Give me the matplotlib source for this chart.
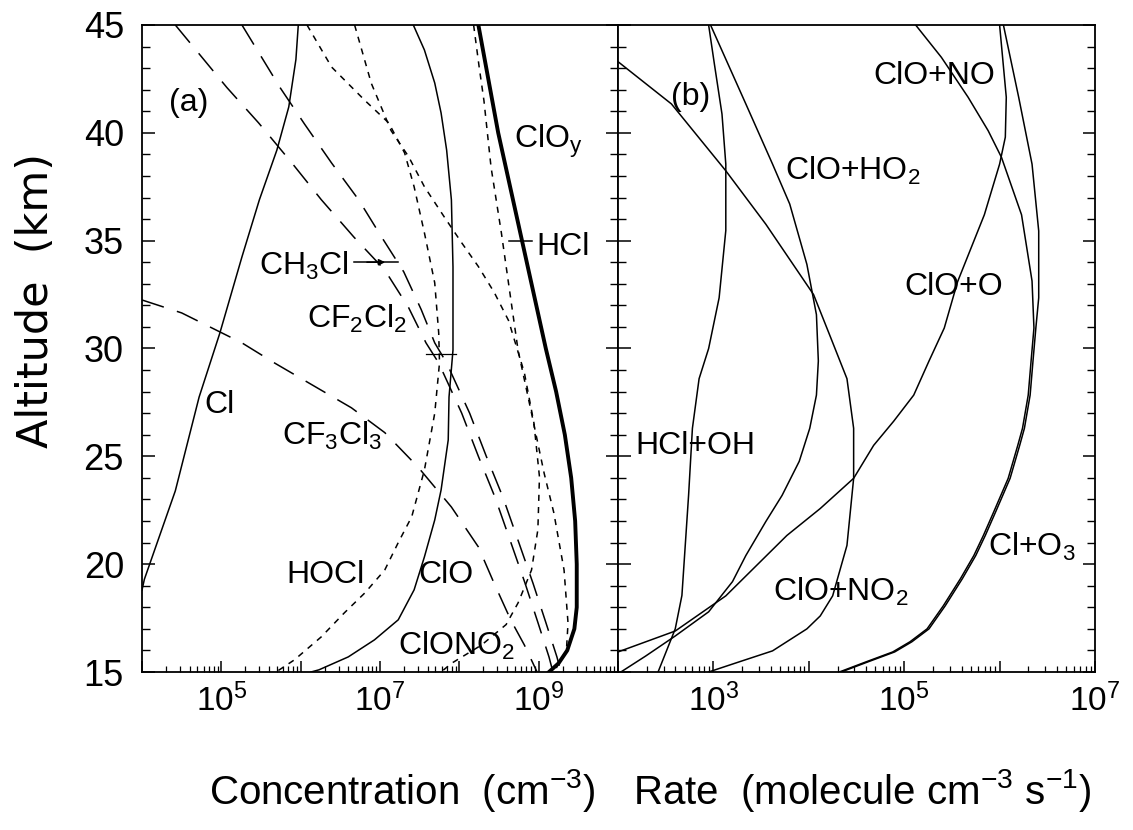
import numpy as np
import matplotlib
matplotlib.use('Agg')
import matplotlib.pyplot as plt
from matplotlib.ticker import LogLocator, MultipleLocator, NullFormatter, FuncFormatter

plt.rcParams['font.family'] = ['Liberation Sans', 'DejaVu Sans']
plt.rcParams['mathtext.fontset'] = 'custom'
plt.rcParams['mathtext.rm'] = 'Liberation Sans'
plt.rcParams['mathtext.default'] = 'regular'

# ---- (a) concentrations: altitude (km) and log10 of number density (cm-3)
cl_alt = [45.0, 43.4, 41.2, 39.2, 36.9, 34.25, 30.7, 27.75, 23.4, 19.3, 18.8]
cl_log = [5.97, 5.94, 5.85, 5.70, 5.48, 5.26, 4.98, 4.72, 4.42, 4.03, 4.00]

clo_alt = [45.0, 43.84, 42.31, 40.92, 39.2, 36.89, 33.78, 29.93, 27.75, 25.76, 23.44,
           22.05, 20.34, 18.81, 17.42, 16.49, 15.7, 15.1, 15.0]
clo_log = [7.42, 7.56, 7.69, 7.77, 7.84, 7.90, 7.92, 7.92, 7.87, 7.86, 7.77,
           7.69, 7.56, 7.43, 7.23, 6.93, 6.60, 6.23, 6.13]

cloy_alt = [45.0, 40.0, 35.0, 32.0, 30.0, 28.0, 26.0, 24.0, 22.0, 20.0, 18.0, 17.0, 16.0, 15.4, 15.0]
cloy_log = [8.24, 8.49, 8.79, 8.97, 9.09, 9.22, 9.33, 9.41, 9.46, 9.48, 9.48, 9.45, 9.36, 9.25, 9.13]

hcl_alt = [45.0, 43.05, 41.5, 38.4, 35.36, 32.25, 29.93, 27.0, 24.2, 22.4, 19.73, 17.27, 16.0, 15.4, 15.0]
hcl_log = [8.18, 8.25, 8.31, 8.40, 8.53, 8.65, 8.74, 8.91, 9.07, 9.19, 9.32, 9.37, 9.35, 9.25, 9.20]

clono2_alt = [45.0, 42.3, 40.1, 38.9, 37.5, 36.1, 34.9, 33.8, 32.6, 31.3, 28.87, 26.55,
              24.05, 21.6, 19.73, 18.2, 17.2, 16.25, 15.4, 15.0]
clono2_log = [6.68, 6.89, 7.14, 7.36, 7.56, 7.81, 8.03, 8.24, 8.44, 8.62, 8.82, 8.94,
              9.01, 8.99, 8.91, 8.74, 8.59, 8.28, 7.90, 7.77]

hocl_alt = [45.0, 43.05, 41.5, 40.46, 39.07, 37.5, 35.36, 33.04, 30.72, 29.33, 27.0,
            24.37, 22.2, 21.0, 19.73, 18.67, 17.74, 16.63, 15.56, 15.0]
hocl_log = [6.08, 6.39, 6.81, 7.11, 7.31, 7.43, 7.56, 7.69, 7.74, 7.75, 7.69,
            7.56, 7.40, 7.23, 7.06, 6.81, 6.55, 6.26, 5.92, 5.69]

cf2cl2_alt = [45.0, 42.1, 40.46, 38.6, 36.9, 35.17, 33.64, 31.9, 30.26, 29.33, 27.0,
              25.0, 23.1, 21.0, 19.1, 17.3, 15.7, 15.0]
cf2cl2_log = [4.42, 5.07, 5.47, 5.89, 6.26, 6.67, 7.06, 7.36, 7.58, 7.74, 8.03,
              8.24, 8.45, 8.65, 8.83, 8.99, 9.13, 9.18]

ch3cl_alt = [45.0, 42.1, 40.4, 38.6, 36.9, 35.17, 33.55, 31.8, 30.26, 29.33, 27.0,
             25.0, 23.1, 21.0, 19.1, 17.3, 15.7, 15.0]
ch3cl_log = [5.26, 5.74, 6.05, 6.39, 6.73, 7.02, 7.30, 7.52, 7.69, 7.84, 8.13,
             8.34, 8.55, 8.75, 8.93, 9.09, 9.23, 9.28]

cfcl3_alt = [32.25, 31.65, 30.26, 29.33, 27.25, 26.1, 24.5, 22.65, 20.8, 19.1, 17.4, 16.25, 15.0]
cfcl3_log = [4.00, 4.50, 5.26, 5.67, 6.64, 7.06, 7.48, 7.90, 8.24, 8.44, 8.65, 8.82, 8.98]

# ---- (b) reaction rates: altitude (km) and log10 rate (molecule cm-3 s-1)
hcloh_alt = [45.0, 43.2, 40.87, 38.55, 35.47, 32.35, 30.0, 28.6, 26.3, 23.2, 18.55, 17.0, 15.0]
hcloh_log = [2.95, 3.01, 3.09, 3.13, 3.13, 3.06, 2.95, 2.85, 2.78, 2.74, 2.67, 2.60, 2.42]

clo_ho2_alt = [45.0, 41.34, 38.55, 36.7, 33.9, 31.57, 29.42, 27.84, 26.3, 24.77, 23.19,
               21.98, 20.4, 19.19, 17.79, 16.67, 15.74, 15.0]
clo_ho2_log = [2.97, 3.34, 3.62, 3.80, 3.98, 4.08, 4.10, 4.08, 4.01, 3.90, 3.72,
               3.55, 3.34, 3.20, 2.95, 2.60, 2.29, 2.03]

clo_no2_alt = [43.3, 41.34, 38.24, 35.76, 32.5, 30.5, 28.6, 26.3, 23.98, 20.87, 18.53,
               17.6, 17.0, 15.98, 15.47, 15.0]
clo_no2_log = [2.00, 2.56, 3.13, 3.55, 4.05, 4.23, 4.40, 4.47, 4.47, 4.40, 4.25,
               4.12, 3.98, 3.62, 3.27, 2.95]

clo_o_alt = [45.0, 41.65, 39.8, 38.55, 36.2, 33.1, 30.95, 29.42, 27.84, 26.63, 25.51,
             23.98, 22.58, 21.33, 19.93, 18.53, 16.9, 15.93]
clo_o_log = [6.00, 6.07, 6.06, 6.00, 5.84, 5.56, 5.42, 5.26, 5.10, 4.89, 4.68,
             4.47, 4.12, 3.77, 3.45, 3.13, 2.60, 2.00]

clo_no_alt = [45.0, 43.5, 41.65, 40.1, 38.86, 36.2, 33.13, 30.95, 29.42, 27.84, 26.3,
              25.5, 23.98, 22.44, 21.33, 20.4, 19.33, 18.07, 17.0, 16.4, 15.93, 15.47, 15.0]
clo_no_log = [5.12, 5.39, 5.67, 5.88, 6.02, 6.23, 6.34, 6.36, 6.33, 6.30, 6.24,
              6.19, 6.09, 5.94, 5.83, 5.73, 5.59, 5.41, 5.24, 5.06, 4.88, 4.60, 4.32]

cl_o3_alt = [45.0, 41.65, 38.55, 35.45, 32.35, 30.95, 29.42, 27.84, 26.3, 25.5, 23.98,
             22.44, 21.33, 20.4, 19.33, 18.07, 17.0, 16.4, 15.93, 15.47, 15.0]
cl_o3_log = [6.04, 6.20, 6.34, 6.41, 6.41, 6.38, 6.35, 6.32, 6.26, 6.21, 6.11,
             5.96, 5.85, 5.75, 5.61, 5.43, 5.26, 5.08, 4.90, 4.62, 4.34]

# curve labels: (text, log10 x, altitude of baseline)
labels_a = [('(a)', 4.34, 41.0), ('ClO$_y$', 8.69, 39.3), ('HCl', 8.97, 34.34),
            ('CH$_3$Cl', 5.48, 33.41), ('CF$_2$Cl$_2$', 6.08, 30.95), ('Cl', 4.78, 27.0),
            ('CF$_3$Cl$_3$', 5.76, 25.53), ('HOCl', 5.82, 19.13), ('ClO', 7.48, 19.13),
            ('ClONO$_2$', 7.23, 15.79)]
labels_b = [('(b)', 2.56, 41.28), ('ClO+NO', 4.68, 42.26), ('ClO+HO$_2$', 3.75, 37.8),
            ('ClO+O', 5.0, 32.49), ('HCl+OH', 2.18, 25.1), ('ClO+NO$_2$', 3.62, 18.3),
            ('Cl+O$_3$', 5.88, 20.4)]


def p10(v):
    return 10.0 ** np.asarray(v)


fig = plt.figure(figsize=(11.33, 8.30), dpi=100)
ax1 = fig.add_axes([142 / 1133, 158 / 830, 476 / 1133, 647 / 830])
ax2 = fig.add_axes([618 / 1133, 158 / 830, 477 / 1133, 647 / 830], sharey=ax1)

lw = 1.1
long_dash = (0, (15, 9))
short_dash = (0, (4, 4))

# panel (a)
ax1.plot(p10(cl_log), cl_alt, color='k', lw=lw)
ax1.plot(p10(clo_log), clo_alt, color='k', lw=lw)
ax1.plot(p10(cloy_log), cloy_alt, color='k', lw=2.8)
ax1.plot(p10(hcl_log), hcl_alt, color='k', lw=lw, linestyle=short_dash)
ax1.plot(p10(clono2_log), clono2_alt, color='k', lw=lw, linestyle=short_dash)
ax1.plot(p10(hocl_log), hocl_alt, color='k', lw=lw, linestyle=short_dash)
ax1.plot(p10(cf2cl2_log), cf2cl2_alt, color='k', lw=lw, linestyle=long_dash)
ax1.plot(p10(ch3cl_log), ch3cl_alt, color='k', lw=lw, linestyle=long_dash)
ax1.plot(p10(cfcl3_log), cfcl3_alt, color='k', lw=lw, linestyle=long_dash)

# pointer marks next to labels
ax1.plot(p10([8.62, 8.91]), [35.0, 35.0], color='k', lw=lw)
ax1.plot(p10([7.58, 7.96]), [29.75, 29.75], color='k', lw=0.9)
ax1.plot(p10([6.67, 7.23]), [34.0, 34.0], color='k', lw=lw)
ax1.annotate('', xy=(p10(7.1), 34.0), xytext=(p10(6.8), 34.0),
             arrowprops=dict(arrowstyle='-|>', lw=lw, color='k', mutation_scale=9))

# panel (b)
for lg, alt in [(hcloh_log, hcloh_alt), (clo_ho2_log, clo_ho2_alt), (clo_no2_log, clo_no2_alt),
                (clo_o_log, clo_o_alt), (clo_no_log, clo_no_alt), (cl_o3_log, cl_o3_alt)]:
    ax2.plot(p10(lg), alt, color='k', lw=lw)

for ax, labs in [(ax1, labels_a), (ax2, labels_b)]:
    for txt, lx, alt in labs:
        ax.text(p10(lx), alt, txt, fontsize=23, ha='left', va='baseline')


def decade_formatter(shown):
    def f(v, pos):
        e = int(round(np.log10(v)))
        return f'$10^{{{e}}}$' if e in shown else ''
    return FuncFormatter(f)


ax1.set_xscale('log')
ax2.set_xscale('log')
ax1.set_xlim(1e4, 1e10)
ax2.set_xlim(1e2, 1e7)
ax1.set_ylim(15, 45)

for ax, shown in [(ax1, (5, 7, 9)), (ax2, (3, 5, 7))]:
    ax.xaxis.set_major_locator(LogLocator(base=10, numticks=20))
    ax.xaxis.set_minor_locator(LogLocator(base=10, subs=np.arange(2, 10), numticks=20))
    ax.xaxis.set_major_formatter(decade_formatter(shown))
    ax.xaxis.set_minor_formatter(NullFormatter())
    ax.yaxis.set_major_locator(MultipleLocator(5))
    ax.yaxis.set_minor_locator(MultipleLocator(1))
    ax.tick_params(axis='y', which='both', direction='in', left=True, right=True)
    ax.tick_params(axis='y', which='major', length=9, width=1.1)
    ax.tick_params(axis='y', which='minor', length=5.5, width=1.0)
    ax.tick_params(axis='x', which='both', direction='in', top=False, bottom=True)
    ax.tick_params(axis='x', which='major', length=8, width=1.1, labelsize=24, pad=8)
    ax.tick_params(axis='x', which='minor', length=4, width=0.9)
    for s in ax.spines.values():
        s.set_linewidth(1.3)

ax1.tick_params(axis='y', labelsize=26, pad=13)
ax2.tick_params(axis='y', labelleft=False)

fig.text(36 / 1133, 1 - 300 / 830, 'Altitude  (km)', rotation=90, family='DejaVu Sans',
         ha='center', va='center', fontsize=31)
fig.text(402 / 1133, 1 - 790 / 830, 'Concentration  (cm$^{-3}$)',
         ha='center', va='center', fontsize=29)
fig.text(862 / 1133, 1 - 790 / 830, 'Rate  (molecule cm$^{-3}$ s$^{-1}$)',
         ha='center', va='center', fontsize=29)

fig.savefig('out.png', dpi=100)
